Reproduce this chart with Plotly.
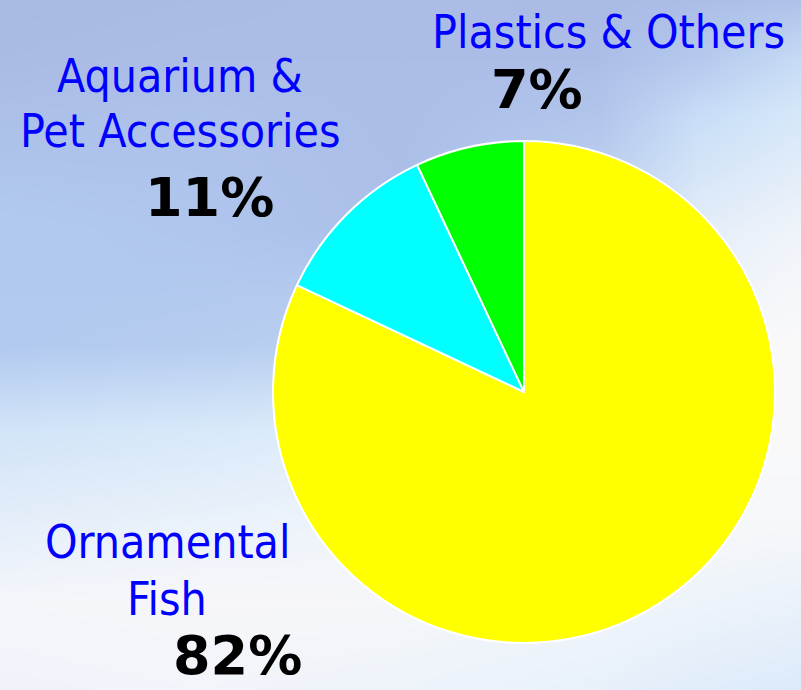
import base64
import struct
import zlib

import numpy as np
import plotly.graph_objects as go

# Market share by product segment
categories = ["Ornamental Fish", "Aquarium & Pet Accessories", "Plastics & Others"]
shares = [82, 11, 7]
slice_colors = ["#FFFF00", "#00FFFF", "#00FF00"]

# label lines for each segment (drawn as separate lines)
label_lines = [["Ornamental", "Fish"], ["Aquarium &", "Pet Accessories"], ["Plastics & Others"]]

W, H = 801, 690

# ---- sky-like backdrop: coarse colour grid, smoothly interpolated into a PNG ----
grid_x = [0, 200, 400, 600, 700, 801]
grid_y = [0, 60, 115, 230, 345, 430, 520, 600, 690]
grid_rgb = [
    [(168, 186, 228), (170, 188, 230), (172, 190, 232), (170, 188, 230), (172, 190, 232), (174, 194, 234)],
    [(170, 188, 230), (172, 190, 232), (172, 190, 232), (172, 190, 232), (182, 202, 238), (200, 220, 246)],
    [(172, 192, 234), (174, 194, 234), (172, 190, 232), (178, 198, 236), (200, 222, 247), (215, 232, 250)],
    [(178, 202, 240), (176, 198, 238), (172, 192, 234), (196, 216, 244), (228, 238, 250), (240, 244, 250)],
    [(178, 202, 240), (182, 205, 240), (190, 210, 242), (232, 240, 250), (248, 248, 250), (250, 250, 250)],
    [(210, 228, 248), (216, 233, 250), (226, 238, 250), (245, 247, 250), (250, 250, 250), (250, 250, 250)],
    [(228, 238, 250), (234, 242, 250), (240, 245, 250), (246, 247, 250), (248, 248, 250), (246, 248, 250)],
    [(244, 246, 250), (247, 247, 250), (246, 247, 250), (242, 246, 250), (238, 244, 250), (235, 242, 250)],
    [(240, 244, 250), (242, 245, 250), (238, 244, 250), (232, 241, 250), (225, 237, 250), (220, 235, 250)],
]


def backdrop_png():
    g = np.array(grid_rgb, dtype=float)
    xs = np.arange(W)
    ys = np.arange(H)
    # interpolate along x for every grid row, then along y
    rows = np.stack([
        np.stack([np.interp(xs, grid_x, g[r, :, c]) for c in range(3)], axis=-1)
        for r in range(g.shape[0])
    ])  # (nrows, W, 3)
    img = np.empty((H, W, 3))
    for c in range(3):
        for i in range(W):
            img[:, i, c] = np.interp(ys, grid_y, rows[:, i, c])
    img = np.clip(img, 0, 255).astype(np.uint8)
    raw = b"".join(b"\x00" + img[r].tobytes() for r in range(H))

    def chunk(tag, data):
        body = tag + data
        return struct.pack(">I", len(data)) + body + struct.pack(">I", zlib.crc32(body) & 0xFFFFFFFF)

    png = b"\x89PNG\r\n\x1a\n"
    png += chunk(b"IHDR", struct.pack(">IIBBBBB", W, H, 8, 2, 0, 0, 0))
    png += chunk(b"IDAT", zlib.compress(raw, 9))
    png += chunk(b"IEND", b"")
    return "data:image/png;base64," + base64.b64encode(png).decode()


# ---- pie geometry (pixels) ----
cx, cy, r = 524, 392, 251
dom_x = [(cx - r) / W, (cx + r) / W]
dom_y = [(H - cy - r) / H, (H - cy + r) / H]

fig = go.Figure(
    go.Pie(
        labels=categories,
        values=shares,
        sort=False,
        direction="clockwise",
        rotation=0,
        marker=dict(colors=slice_colors, line=dict(color="white", width=2)),
        textinfo="none",
        hoverinfo="label+percent",
        showlegend=False,
        domain=dict(x=dom_x, y=dom_y),
    )
)

# label placement (pixel centres): per segment, one entry per text line, then the percentage
line_pos = [[(167, 542), (167, 599)], [(180, 76), (180, 131)], [(608, 32)]]
pct_pos = [(237, 655), (210, 197), (537, 89)]

label_font = dict(family="DejaVu Sans Condensed, DejaVu Sans, sans-serif", size=46, color="#0000FF")
pct_font = dict(family="DejaVu Sans, sans-serif", size=54, color="#000000", weight="bold")

annotations = []
for lines, poss, val, ppos in zip(label_lines, line_pos, shares, pct_pos):
    for txt, (px, py) in zip(lines, poss):
        annotations.append(dict(
            x=px / W, y=1 - py / H, xref="paper", yref="paper",
            text=txt, showarrow=False, xanchor="center", yanchor="middle",
            font=label_font,
        ))
    annotations.append(dict(
        x=ppos[0] / W, y=1 - ppos[1] / H, xref="paper", yref="paper",
        text=f"<b>{val}%</b>", showarrow=False, xanchor="center", yanchor="middle",
        font=pct_font,
    ))

fig.update_layout(
    width=W,
    height=H,
    margin=dict(l=0, r=0, t=0, b=0),
    paper_bgcolor="#DCE8F8",
    plot_bgcolor="rgba(0,0,0,0)",
    images=[dict(
        source=backdrop_png(), xref="paper", yref="paper", x=0, y=1,
        sizex=1, sizey=1, xanchor="left", yanchor="top", sizing="stretch", layer="below",
    )],
    annotations=annotations,
)

fig.write_html("out.html")
